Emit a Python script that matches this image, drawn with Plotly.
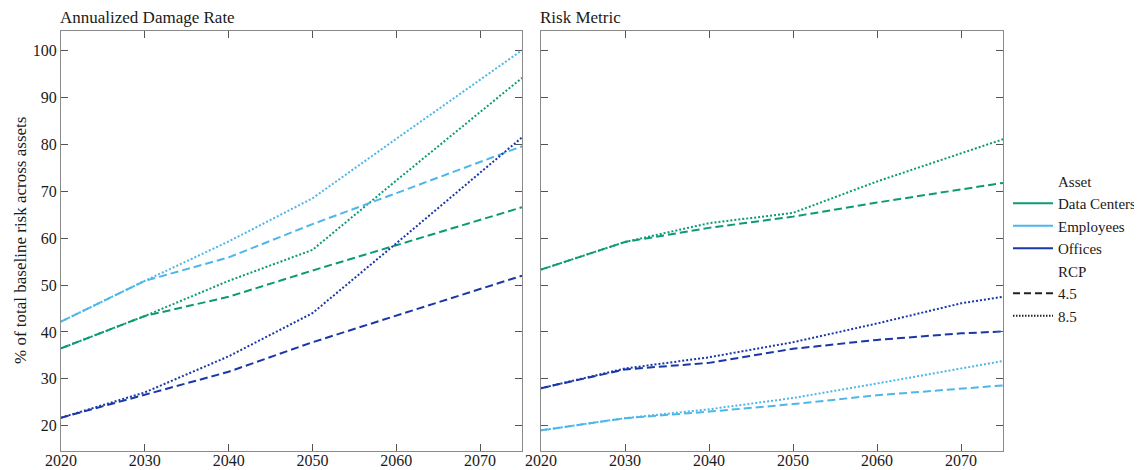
import plotly.graph_objects as go

years = [2020, 2030, 2040, 2050, 2060, 2070, 2075]
assets = ["Data Centers", "Employees", "Offices"]
rcps = ["4.5", "8.5"]
panel_titles = ["Annualized Damage Rate", "Risk Metric"]
y_title = "% of total baseline risk across assets"
x_ticks = [2020, 2030, 2040, 2050, 2060, 2070]
y_ticks = [20, 30, 40, 50, 60, 70, 80, 90, 100]

# Annualized Damage Rate
adr_dc_45 = [36.5, 43.4, 47.5, 53.1, 58.5, 63.9, 66.6]
adr_dc_85 = [36.5, 43.4, 50.9, 57.5, 72.3, 87.0, 94.2]
adr_emp_45 = [42.2, 50.9, 55.9, 63.0, 69.6, 76.3, 79.6]
adr_emp_85 = [42.2, 50.9, 59.3, 68.5, 81.2, 93.7, 100.1]
adr_off_45 = [21.7, 26.6, 31.5, 37.8, 43.5, 49.1, 52.0]
adr_off_85 = [21.7, 27.1, 34.8, 44.0, 58.9, 74.0, 81.5]

# Risk Metric
rm_dc_45 = [53.3, 59.2, 62.2, 64.6, 67.6, 70.4, 71.8]
rm_dc_85 = [53.3, 59.2, 63.2, 65.4, 72.1, 78.2, 81.1]
rm_emp_45 = [19.0, 21.6, 23.0, 24.6, 26.5, 28.0, 28.6]
rm_emp_85 = [19.0, 21.6, 23.5, 25.9, 29.0, 32.2, 33.8]
rm_off_45 = [28.0, 32.0, 33.4, 36.4, 38.3, 39.7, 40.1]
rm_off_85 = [28.0, 32.2, 34.6, 37.8, 41.8, 46.1, 47.5]

panels = [
    {("Data Centers", "4.5"): adr_dc_45, ("Data Centers", "8.5"): adr_dc_85,
     ("Employees", "4.5"): adr_emp_45, ("Employees", "8.5"): adr_emp_85,
     ("Offices", "4.5"): adr_off_45, ("Offices", "8.5"): adr_off_85},
    {("Data Centers", "4.5"): rm_dc_45, ("Data Centers", "8.5"): rm_dc_85,
     ("Employees", "4.5"): rm_emp_45, ("Employees", "8.5"): rm_emp_85,
     ("Offices", "4.5"): rm_off_45, ("Offices", "8.5"): rm_off_85},
]

colors = {"Data Centers": "#0c9a74", "Employees": "#4db6ea", "Offices": "#1a37a8"}
dashes = {"4.5": "8px,4px", "8.5": "2px,2px"}
FONT = "Liberation Serif, Times New Roman, serif"

fig = go.Figure()
for i, pdata in enumerate(panels):
    xa = "x" if i == 0 else "x2"
    ya = "y" if i == 0 else "y2"
    for a in assets:
        for r in rcps:
            fig.add_trace(go.Scatter(
                x=years, y=pdata[(a, r)], mode="lines", xaxis=xa, yaxis=ya,
                line=dict(color=colors[a], width=2, dash=dashes[r]),
                showlegend=False, hoverinfo="skip"))

# legend entries
def leg(name, color, dash, gid):
    fig.add_trace(go.Scatter(
        x=[None], y=[None], mode="lines", name=name, legendgroup=gid,
        line=dict(color=color, width=2, dash=dash), showlegend=True))

leg("Asset", "rgba(0,0,0,0)", "solid", "g0")
for k, a in enumerate(assets):
    leg(a, colors[a], "solid", "g%d" % (k + 1))
leg("RCP", "rgba(0,0,0,0)", "solid", "g4")
leg("4.5", "#222222", "7px,4px", "g5")
leg("8.5", "#222222", "1.5px,1.5px", "g6")

# page body has an 8px margin; figure is sized to fit the 1142x470 window
W, H = 1134, 462
ml, mr, mt, mb = 53, 139, 23, 19
pw = W - ml - mr
d1 = (522 - 8 - ml) / pw
d2 = (541 - 8 - ml) / pw

axis_common = dict(
    showgrid=False, zeroline=False, showline=True, mirror="allticks",
    linecolor="#8a8a8a", linewidth=1.2, ticks="inside", ticklen=7,
    tickcolor="#555555", tickwidth=1.2, automargin=False,
    tickfont=dict(family=FONT, size=16, color="#1a1a1a"),
)
fig.update_layout(
    width=W, height=H,
    margin=dict(l=ml, r=mr, t=mt, b=mb, autoexpand=False),
    paper_bgcolor="white", plot_bgcolor="white",
    font=dict(family=FONT, color="#1a1a1a"),
    xaxis=dict(domain=[0, d1], range=[2020, 2075], tickvals=x_ticks,
               ticklabelstandoff=-5, **axis_common),
    xaxis2=dict(domain=[d2, 1], range=[2020, 2075], tickvals=x_ticks, anchor="y2",
                ticklabelstandoff=-5, **axis_common),
    yaxis=dict(range=[14.6, 104.2], tickvals=y_ticks, **axis_common),
    yaxis2=dict(range=[14.6, 104.2], tickvals=y_ticks, anchor="x2", matches="y",
                showticklabels=False, **axis_common),
    legend=dict(x=1.0 + 5 / pw, xanchor="left", y=0.682, yanchor="top",
                font=dict(family=FONT, size=15, color="#1a1a1a"),
                tracegroupgap=0, itemwidth=40, bgcolor="rgba(0,0,0,0)"),
    annotations=[
        dict(text=panel_titles[0], x=0, xref="paper", y=1, yref="paper",
             xanchor="left", yanchor="bottom", yshift=2, xshift=-3, showarrow=False,
             font=dict(family=FONT, size=17, color="#1a1a1a")),
        dict(text=panel_titles[1], x=d2, xref="paper", y=1, yref="paper",
             xanchor="left", yanchor="bottom", yshift=2, xshift=-3, showarrow=False,
             font=dict(family=FONT, size=17, color="#1a1a1a")),
        dict(text=y_title, x=(20 - 8 - ml) / pw, xref="paper", y=0.5, yref="paper",
             textangle=-90, showarrow=False, xanchor="center", yanchor="middle",
             font=dict(family=FONT, size=17, color="#1a1a1a")),
    ],
)

fig.write_html("out.html")
